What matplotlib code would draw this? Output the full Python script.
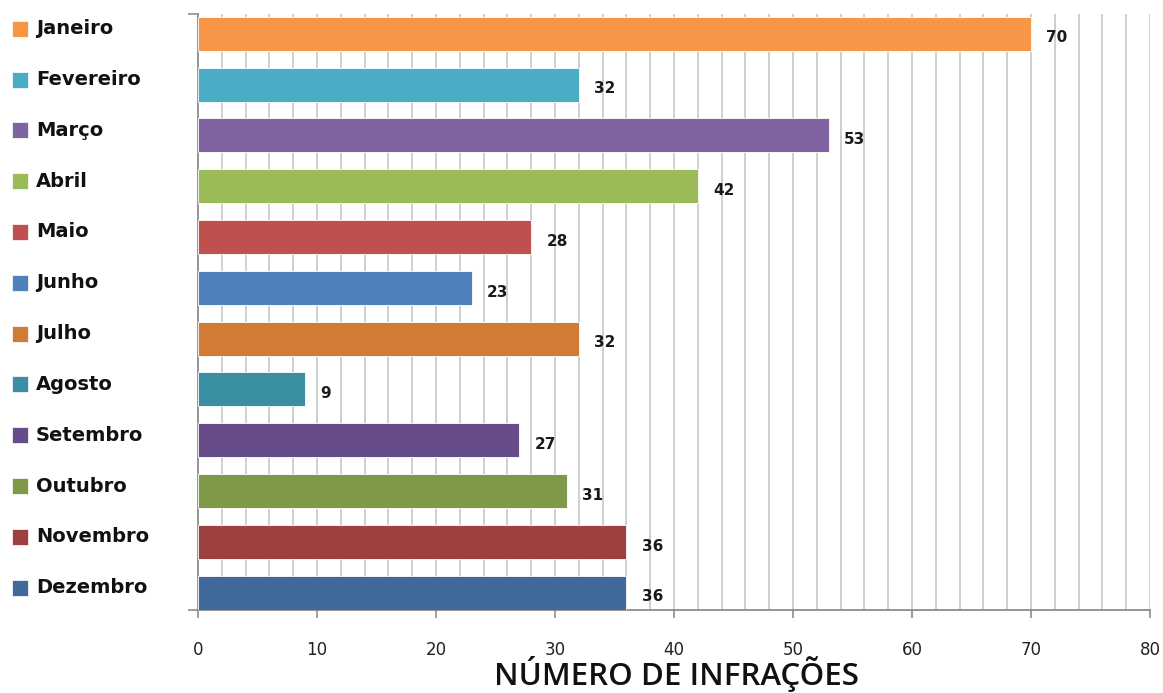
import numpy as np
import matplotlib.pyplot as plt
from matplotlib.transforms import blended_transform_factory

meses = ['Janeiro', 'Fevereiro', 'Março', 'Abril', 'Maio', 'Junho',
         'Julho', 'Agosto', 'Setembro', 'Outubro', 'Novembro', 'Dezembro']
infracoes = [70, 32, 53, 42, 28, 23, 32, 9, 27, 31, 36, 36]
cores = ['#F79646', '#4BACC6', '#8064A2', '#9BBB59', '#C0504D', '#4F81BD',
         '#D07B36', '#3A8FA3', '#664C88', '#7E9A48', '#9E403D', '#3F6A9B']

fig = plt.figure(figsize=(11.63, 6.93), dpi=100)
ax = fig.add_axes([0.1703, 0.1198, 0.8185, 0.8600])

y = np.arange(len(meses))
ax.barh(y, infracoes, height=0.67, color=cores,
        edgecolor='white', linewidth=0.6, zorder=3)

# rótulos de valor à direita de cada barra
for yi, v in zip(y, infracoes):
    ax.annotate(str(v), (v, yi), xytext=(11, -3), textcoords='offset points',
                ha='left', va='center', fontsize=11, fontweight='bold',
                color='#1a1a1a')

ax.set_xlim(0, 80)
ax.set_ylim(11.34, -0.39)

# grade vertical a cada 2 unidades
for gx in np.arange(2, 81, 2):
    ax.axvline(gx, color='#cccccc', linewidth=1.3, zorder=1)

ax.set_xticks(np.arange(0, 81, 10))
ax.tick_params(axis='x', length=6, width=1.2, color='#8c8c8c',
               labelsize=12, labelcolor='#222222', pad=16)
ax.set_yticks([-0.39, 11.34])
ax.set_yticklabels([])
ax.tick_params(axis='y', length=7, width=1.2, color='#8c8c8c')

for s in ['top', 'right']:
    ax.spines[s].set_visible(False)
for s in ['left', 'bottom']:
    ax.spines[s].set_color('#8c8c8c')
    ax.spines[s].set_linewidth(1.3)

# título do eixo x, colado à borda inferior
fig.text(0.5815, 0.011, 'NÚMERO DE INFRAÇÕES', fontsize=22.5,
         family='Open Sans', fontweight='semibold', color='#111111',
         ha='center', va='baseline')

# legenda à esquerda, alinhada com as barras
tr = blended_transform_factory(fig.transFigure, ax.transData)
for yi, nome, c in zip(y, meses, cores):
    ax.plot([0.0176], [yi - 0.1], marker='s', markersize=11.5, color=c,
            markeredgecolor='white', markeredgewidth=0.5,
            transform=tr, clip_on=False)
    ax.text(0.031, yi - 0.1, nome, transform=tr, fontsize=14,
            fontweight='bold', color='#111111', ha='left', va='center',
            clip_on=False)

fig.savefig('out.png', dpi=100)
